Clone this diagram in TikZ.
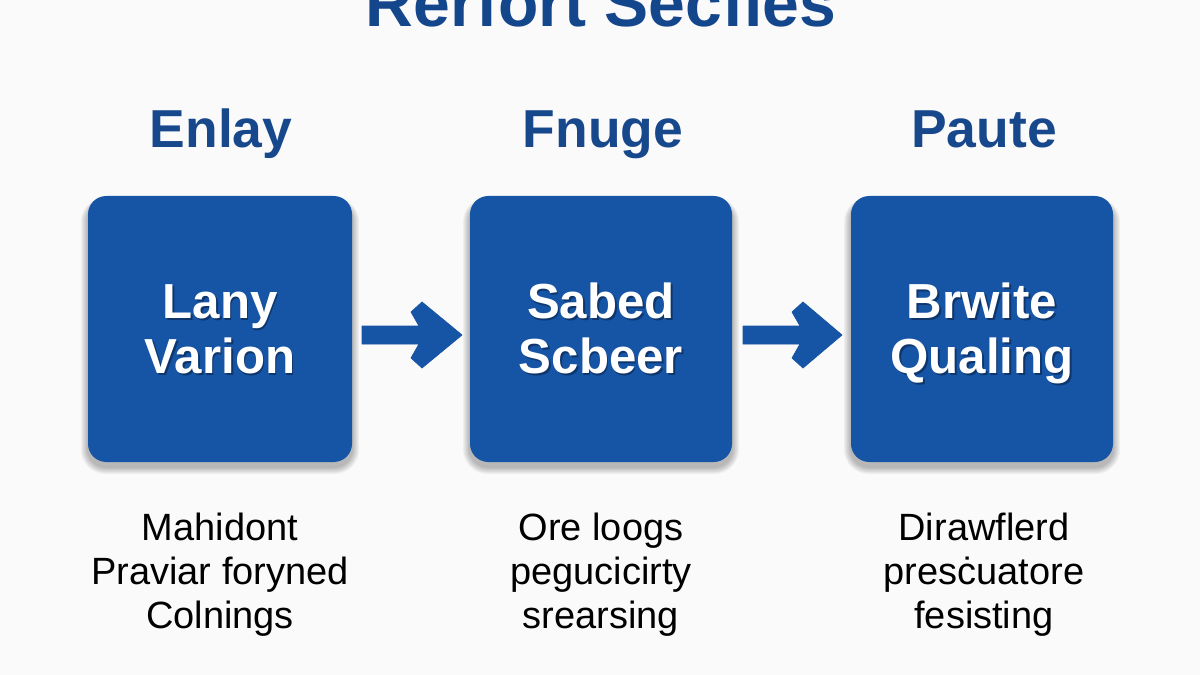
\documentclass[tikz,border=0pt]{standalone}
\usepackage{fontspec}
\setmainfont{Liberation Sans}
\definecolor{boxblue}{RGB}{22,84,166}
\definecolor{headblue}{RGB}{24,72,140}
\definecolor{titleblue}{RGB}{20,70,140}
\definecolor{bg}{RGB}{250,250,250}
\tikzset{
  stagebox/.style={fill=boxblue, rounded corners=13pt},
  shadowlayer/.style={fill=black, opacity=0.035},
  headtxt/.style={anchor=base, inner sep=0pt, text=headblue, font=\fontsize{38}{42}\selectfont\bfseries},
  boxtxt/.style={anchor=base, inner sep=0pt, text=white, font=\fontsize{35}{39}\selectfont\bfseries},
  boxshd/.style={anchor=base, inner sep=0pt, text=black, opacity=0.35, font=\fontsize{35}{39}\selectfont\bfseries},
  desctxt/.style={anchor=base, inner sep=0pt, text=black, font=\fontsize{27}{31}\selectfont},
  blockarrow/.style={fill=boxblue, draw=boxblue, line width=0.5pt, line join=round}
}
\newcommand{\boxline}[3]{%
  \node[boxshd] at ([xshift=1.2pt,yshift=-1.6pt]#1) {#3};
  \node[boxtxt] (#2) at (#1) {#3};}
\newcommand{\stageshadow}[4]{%
  \foreach \e in {1,2,...,8}{
    \fill[shadowlayer, rounded corners={13pt+\e*0.6pt}] ({#1-\e*0.9},{#2+6-\e*0.6}) rectangle ({#3+\e*0.9},{#4+5+\e*0.9});
  }}
\begin{document}
\begin{tikzpicture}[x=0.025cm,y=-0.025cm]
\useasboundingbox (0,0) rectangle (1200,675);
\fill[bg] (0,0) rectangle (1200,675);

% title (cut off at top, as in the reference)
\node[anchor=base, inner sep=0pt, text=titleblue, font=\fontsize{47}{50}\selectfont\bfseries] (title) at (601,27) {Rerfort Secfies};

% headers
\node[headtxt] (h1) at (221,148) {Enlay};
\node[headtxt] (h2) at (603,148) {Fnuge};
\node[headtxt] (h3) at (984,148) {Paute};

% box shadows
\stageshadow{88}{196}{352}{462}
\stageshadow{470}{196}{732}{462}
\stageshadow{851}{196}{1113}{462}

% boxes
\path[stagebox] (88,196) rectangle (352,462);
\path[stagebox] (470,196) rectangle (732,462);
\path[stagebox] (851,196) rectangle (1113,462);

% box texts
\coordinate (p1a) at (220,318); \coordinate (p1b) at (220,373);
\coordinate (p2a) at (601,318); \coordinate (p2b) at (601,373);
\coordinate (p3a) at (982,318); \coordinate (p3b) at (982,373);
\boxline{p1a}{t1a}{Lany}
\boxline{p1b}{t1b}{Varion}
\boxline{p2a}{t2a}{Sabed}
\boxline{p2b}{t2b}{Scbeer}
\boxline{p3a}{t3a}{Brwite}
\boxline{p3b}{t3b}{Qualing}

% arrows
\fill[blockarrow] (362,326) -- (419,326) -- (411,312) -- (422,302) -- (462,335) -- (422,368) -- (411,358) -- (419,344) -- (362,344) -- cycle;
\fill[blockarrow] (743,326) -- (800,326) -- (792,312) -- (803,302) -- (842,335) -- (803,368) -- (792,358) -- (800,344) -- (743,344) -- cycle;

% descriptions
\node[desctxt] (d1a) at (220,540) {Mahidont};
\node[desctxt] (d1b) at (220,584) {Praviar foryned};
\node[desctxt] (d1c) at (220,628) {Colnings};
\node[desctxt] (d2a) at (601,540) {Ore loogs};
\node[desctxt] (d2b) at (601,584) {pegucicirty};
\node[desctxt] (d2c) at (601,628) {srearsing};
\node[desctxt] (d3a) at (984,540) {Dirawflerd};
\node[desctxt] (d3b) at (984,584) {presċuatore};
\node[desctxt] (d3c) at (984,628) {fesisting};
\end{tikzpicture}
\end{document}
